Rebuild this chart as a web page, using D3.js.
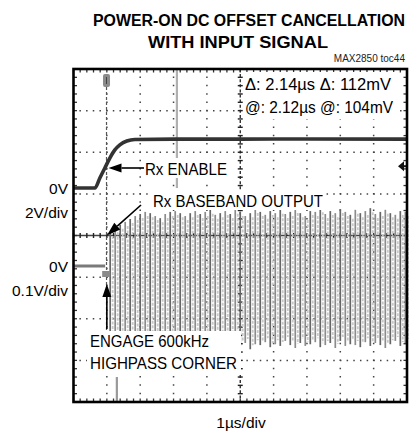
<!DOCTYPE html>
<html><head><meta charset="utf-8">
<script src="https://cdn.jsdelivr.net/npm/d3@7"></script>
<style>body{margin:0;background:#fff}svg{display:block}text{font-family:"Liberation Sans Narrow","Liberation Sans",Arial,sans-serif}</style>
</head><body><div id="c"></div>
<script>
// ---- data ----
const titleLines = ["POWER-ON DC OFFSET CANCELLATION", "WITH INPUT SIGNAL"];
const xDivs = 10, yDivs = 8;            // scope graticule divisions
const timeDomain = [0, 10];             // µs, 1 µs/div
// Channel 1 (Rx ENABLE), volts, 2V/div
const ch1Time = [0, 0.64, 0.79, 0.94, 1.09, 1.24, 1.39, 1.60, 1.84, 3.0, 5.0, 7.0, 10.0];
const ch1Volt = [0, 0, 0.48, 0.96, 1.44, 1.83, 2.07, 2.26, 2.33, 2.35, 2.35, 2.36, 2.35];
// Channel 2 (Rx baseband output), volts, 0.1V/div: pre-enable baseline
const ch2FlatTime = [0, 0.95];
const ch2FlatVolt = [0, 0];
// Channel 2 oscillation envelope per displayed stroke
const barTime = [1.10,1.25,1.40,1.55,1.70,1.85,2.00,2.15,2.30,2.45,2.60,2.75,2.90,3.05,3.20,3.35,3.50,3.65,3.80,3.95,4.10,4.25,4.40,4.55,4.70,4.85,5.00,5.15,5.30,5.45,5.60,5.75,5.90,6.05,6.20,6.35,6.50,6.65,6.80,6.95,7.10,7.25,7.40,7.55,7.70,7.85,8.00,8.15,8.30,8.45,8.60,8.75,8.90,9.05,9.20,9.35,9.50,9.65,9.80,9.95];
const barTop = [0.082,0.091,0.099,0.106,0.113,0.120,0.125,0.130,0.127,0.120,0.115,0.125,0.130,0.132,0.127,0.120,0.127,0.132,0.125,0.130,0.135,0.123,0.127,0.132,0.125,0.135,0.130,0.120,0.127,0.137,0.130,0.123,0.132,0.127,0.135,0.125,0.130,0.137,0.127,0.120,0.132,0.130,0.139,0.125,0.132,0.127,0.137,0.130,0.123,0.135,0.127,0.132,0.139,0.125,0.130,0.135,0.127,0.123,0.132,0.130];
const barBottom = [-0.178,-0.190,-0.183,-0.197,-0.188,-0.192,-0.180,-0.195,-0.185,-0.200,-0.190,-0.183,-0.192,-0.188,-0.197,-0.180,-0.190,-0.195,-0.185,-0.192,-0.188,-0.197,-0.183,-0.190,-0.195,-0.180,-0.192,-0.185,-0.200,-0.188,-0.190,-0.183,-0.195,-0.188,-0.192,-0.180,-0.190,-0.197,-0.185,-0.192,-0.188,-0.183,-0.195,-0.190,-0.185,-0.197,-0.180,-0.192,-0.188,-0.190,-0.195,-0.183,-0.192,-0.185,-0.190,-0.197,-0.188,-0.180,-0.192,-0.185];
const ch1Labels = ["0V", "2V/div"];
const ch2Labels = ["0V", "0.1V/div"];
const ch1Offset = 1.14, ch2Offset = -0.733; // ground position in divisions above centre
const ch1Scale = 2, ch2Scale = 0.1;
const cursorText = ["\u0394: 2.14\u00b5s  \u0394: 112mV", "@: 2.12\u00b5s  @: 104mV"];
const annot = {enable: "Rx ENABLE", baseband: "Rx BASEBAND OUTPUT", engage1: "ENGAGE 600kHz", engage2: "HIGHPASS CORNER"};
const xLabel = "1\u00b5s/div";
const note = "MAX2850 toc44";

// ---- layout ----
const W = 412, H = 433;
const L = 73.5, R = 407, T = 69, B = 402;
const svg = d3.select("#c").append("svg").attr("width", W).attr("height", H);

const x = d3.scaleLinear().domain(timeDomain).range([L, R]);
const gy = d3.scaleLinear().domain([-yDivs/2, yDivs/2]).range([B, T]);
const y1 = d3.scaleLinear().domain([(-yDivs/2 - ch1Offset)*ch1Scale, (yDivs/2 - ch1Offset)*ch1Scale]).range([B, T]);
const y2 = d3.scaleLinear().domain([(-yDivs/2 - ch2Offset)*ch2Scale, (yDivs/2 - ch2Offset)*ch2Scale]).range([B, T]);

// titles
svg.append("text").attr("x", 249).attr("y", 26).attr("text-anchor","middle").attr("font-weight","bold")
  .attr("font-size", 16).attr("textLength", 312).attr("lengthAdjust","spacingAndGlyphs").text(titleLines[0]);
svg.append("text").attr("x", 238).attr("y", 48).attr("text-anchor","middle").attr("font-weight","bold")
  .attr("font-size", 16.5).attr("textLength", 180).attr("lengthAdjust","spacingAndGlyphs").text(titleLines[1]);
svg.append("text").attr("x", 405).attr("y", 62).attr("text-anchor","end").attr("font-size", 10).attr("fill","#222").text(note);

// graticule
const g = svg.append("g");
const dotCol = "#444";
for (let i = 1; i < xDivs; i++) {
  const xv = x(timeDomain[0] + i*(timeDomain[1]-timeDomain[0])/xDivs);
  if (i === xDivs/2) continue;
  g.append("line").attr("x1", xv).attr("x2", xv).attr("y1", T).attr("y2", B)
    .attr("stroke", dotCol).attr("stroke-width", 1.5).attr("stroke-dasharray", "1.5,6.82").attr("stroke-dashoffset", -7.5);
}
for (let j = 1; j < yDivs; j++) {
  const yv = gy(-yDivs/2 + j);
  if (j === yDivs/2) continue;
  g.append("line").attr("x1", L).attr("x2", R).attr("y1", yv).attr("y2", yv)
    .attr("stroke", dotCol).attr("stroke-width", 1.5).attr("stroke-dasharray", "1.5,5.18").attr("stroke-dashoffset", -5.9);
}
const cx = x((timeDomain[0]+timeDomain[1])/2), cy = gy(0);
g.append("line").attr("x1", cx).attr("x2", cx).attr("y1", T).attr("y2", B).attr("stroke", "#222").attr("stroke-width", 1.3).attr("stroke-dasharray","3,2.1");
g.append("line").attr("x1", L).attr("x2", R).attr("y1", cy).attr("y2", cy).attr("stroke", "#444").attr("stroke-width", 1.6);
const minorX = d3.range(0, xDivs*5+1).map(k => timeDomain[0] + k*(timeDomain[1]-timeDomain[0])/(xDivs*5));
const minorY = d3.range(0, yDivs*5+1).map(k => -yDivs/2 + k/5);
minorX.forEach(v => {
  g.append("line").attr("x1", x(v)).attr("x2", x(v)).attr("y1", cy-2.5).attr("y2", cy+2.5).attr("stroke","#222").attr("stroke-width",1.4);
  g.append("line").attr("x1", x(v)).attr("x2", x(v)).attr("y1", T).attr("y2", T+3.5).attr("stroke","#333").attr("stroke-width",1.3);
  g.append("line").attr("x1", x(v)).attr("x2", x(v)).attr("y1", B-3.5).attr("y2", B).attr("stroke","#333").attr("stroke-width",1.3);
});
minorY.forEach(v => {
  g.append("line").attr("x1", cx-2.5).attr("x2", cx+2.5).attr("y1", gy(v)).attr("y2", gy(v)).attr("stroke","#222").attr("stroke-width",1.4);
  g.append("line").attr("x1", L).attr("x2", L+3.5).attr("y1", gy(v)).attr("y2", gy(v)).attr("stroke","#333").attr("stroke-width",1.3);
  g.append("line").attr("x1", R-3.5).attr("x2", R).attr("y1", gy(v)).attr("y2", gy(v)).attr("stroke","#333").attr("stroke-width",1.3);
});

// cursor lines
g.append("line").attr("x1", x(0.99)).attr("x2", x(0.99)).attr("y1", T+18).attr("y2", 330)
  .attr("stroke","#555").attr("stroke-width",1.2).attr("stroke-dasharray","3,2");
g.append("line").attr("x1", x(3.1)).attr("x2", x(3.1)).attr("y1", T+1).attr("y2", y1(0))
  .attr("stroke","#b0b0b0").attr("stroke-width",2.2);
g.append("line").attr("x1", x(1.3)).attr("x2", x(1.3)).attr("y1", 377).attr("y2", B-1)
  .attr("stroke","#999").attr("stroke-width",2.2);
// trigger marker
g.append("rect").attr("x", x(0.99)-3.5).attr("y", T+5).attr("width", 7).attr("height", 13).attr("rx", 2).attr("fill","#8a8a8a");
g.append("line").attr("x1", x(0.99)).attr("x2", x(0.99)).attr("y1", T+8).attr("y2", T+15).attr("stroke","#444").attr("stroke-width",1);
// trigger level marker on right
svg.append("path").attr("d", `M${R-3},${y1(1.05)-5} L${R-9},${y1(1.05)} L${R-3},${y1(1.05)+5} Z`).attr("fill","#111");
svg.append("line").attr("x1", R-4).attr("x2", R).attr("y1", y1(1.05)).attr("y2", y1(1.05)).attr("stroke","#111").attr("stroke-width",2);

// ch2 oscillation
const bars = barTime.map((t,i) => ({t, top: barTop[i], bot: barBottom[i], i}));
const bg = svg.append("g");
bg.selectAll("line.lt").data(bars).join("line").attr("class","lt")
  .attr("x1", d => x(d.t) + 2.5).attr("x2", d => x(d.t) + 2.5)
  .attr("y1", d => y2(d.top) + 4).attr("y2", d => y2(d.bot) - 4)
  .attr("stroke", "#c8c8c8").attr("stroke-width", 1.8).attr("stroke-dasharray", "3,1.5");
bg.selectAll("line.dk").data(bars).join("line").attr("class","dk")
  .attr("x1", d => x(d.t)).attr("x2", d => x(d.t))
  .attr("y1", d => y2(d.top)).attr("y2", d => y2(d.bot))
  .attr("stroke", d => d.i % 2 ? "#8c8c8c" : "#666")
  .attr("stroke-width", 1.7);
// ch2 baseline before enable
const ch2Flat = ch2FlatTime.map((t,i) => [t, ch2FlatVolt[i]]);
svg.append("path").datum(ch2Flat).attr("fill","none").attr("stroke","#7a7a7a").attr("stroke-width",3)
  .attr("d", d3.line().x(d => x(d[0])).y(d => y2(d[1])));
svg.append("rect").attr("x", x(0.86)).attr("y", y2(-0.012)).attr("width", 8).attr("height", 6).attr("fill","#8a8a8a");

// ch1 trace
const ch1 = ch1Time.map((t,i) => [t, ch1Volt[i]]);
svg.append("path").datum(ch1).attr("fill","none").attr("stroke","#333").attr("stroke-width",3.6)
  .attr("stroke-linejoin","round")
  .attr("d", d3.line().curve(d3.curveMonotoneX).x(d => x(d[0])).y(d => y1(d[1])));

// frame
svg.append("rect").attr("x", L).attr("y", T).attr("width", R-L).attr("height", B-T)
  .attr("fill","none").attr("stroke","#000").attr("stroke-width",2.6);

// channel labels
const lab = (t, yy) => svg.append("text").attr("x", 68).attr("y", yy).attr("text-anchor","end").attr("font-size",15.5).text(t);
lab(ch1Labels[0], y1(0)+6); lab(ch1Labels[1], y1(0)+30);
lab(ch2Labels[0], y2(0)+6); lab(ch2Labels[1], y2(0)+30);

function boxText(txt, tx, ty, len, size) {
  return svg.append("text").attr("x", tx).attr("y", ty).attr("font-size", size)
    .attr("textLength", len).attr("lengthAdjust","spacingAndGlyphs").text(txt);
}
// cursor readouts
svg.append("rect").attr("x", 243).attr("y", 72).attr("width", 155).attr("height", 47).attr("fill","#fff");
boxText(cursorText[0], 245, 90, 146, 17);
boxText(cursorText[1], 245, 113, 148, 17);

const arrow = (x0,y0,x1,y1_,hl,hw) => {
  const a = Math.atan2(y1_-y0, x1-x0);
  const bx = x1 - hl*Math.cos(a), by = y1_ - hl*Math.sin(a);
  svg.append("line").attr("x1",x0).attr("y1",y0).attr("x2",bx).attr("y2",by).attr("stroke","#000").attr("stroke-width",1.6);
  const px = -Math.sin(a)*hw/2, py = Math.cos(a)*hw/2;
  svg.append("path").attr("d", `M${x1},${y1_} L${bx+px},${by+py} L${bx-px},${by-py} Z`).attr("fill","#000");
};
// Rx ENABLE annotation
svg.append("rect").attr("x", 142).attr("y", 158).attr("width", 88).attr("height", 20).attr("fill","#fff");
boxText(annot.enable, 145, 175, 82, 17);
arrow(144, 168, x(1.05), 168, 13, 9);

// baseband annotation
svg.append("rect").attr("x", 150).attr("y", 191).attr("width", 176).attr("height", 19).attr("fill","#fff");
boxText(annot.baseband, 153, 207, 170, 17);
arrow(141, 205, x(1.0), gy(0), 14, 9);

// engage annotation
svg.append("rect").attr("x", 87).attr("y", 331).attr("width", 154).attr("height", 42).attr("fill","#fff");
boxText(annot.engage1, 90, 347, 119, 17);
boxText(annot.engage2, 90, 369, 147, 17);
arrow(x(1.0), 329, x(1.0), 284, 13, 9);

// x label
svg.append("text").attr("x", 241).attr("y", 428).attr("text-anchor","middle").attr("font-size",15.5).text(xLabel);
</script></body></html>
